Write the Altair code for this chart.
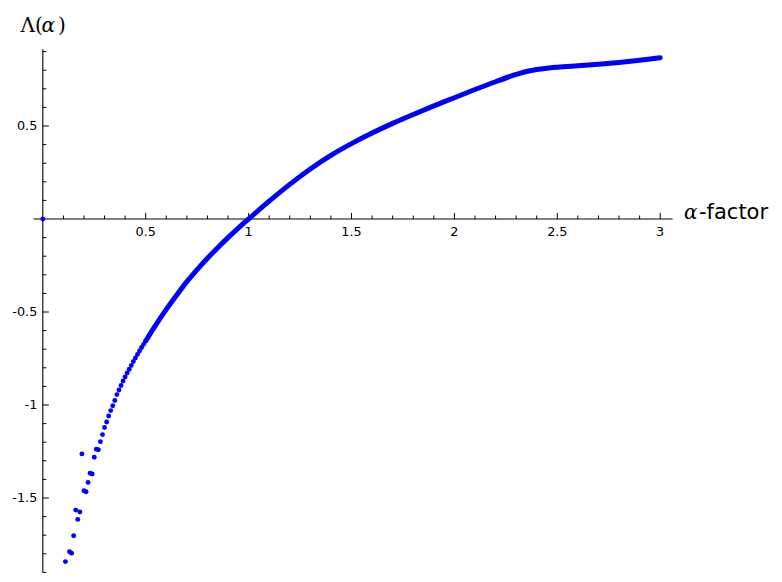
import altair as alt
import pandas as pd

# ---------------- data ----------------
# isolated points at small alpha (alpha, Lambda)
dot_alpha = [0.0, 0.11, 0.13, 0.14, 0.15, 0.16, 0.17, 0.18, 0.19, 0.20,
             0.21, 0.22, 0.23, 0.24, 0.25, 0.26, 0.27, 0.28, 0.29, 0.30,
             0.31, 0.32, 0.33, 0.34, 0.35, 0.36, 0.37, 0.38, 0.39, 0.40,
             0.41, 0.42, 0.43, 0.44, 0.45, 0.46, 0.47, 0.48, 0.49, 0.50]
dot_lambda = [0.0, -1.842, -1.789, -1.797, -1.703, -1.565, -1.615, -1.575, -1.263, -1.461,
              -1.466, -1.416, -1.367, -1.371, -1.281, -1.238, -1.240, -1.197, -1.159, -1.121,
              -1.091, -1.059, -1.030, -1.004, -0.976, -0.944, -0.919, -0.895, -0.871, -0.849,
              -0.828, -0.808, -0.787, -0.766, -0.747, -0.728, -0.710, -0.691, -0.674, -0.656]

# dense part of the curve (points so close they form a thick line)
curve_alpha = [0.50, 0.55, 0.60, 0.65, 0.70, 0.75, 0.80, 0.85, 0.90, 0.95,
               1.00, 1.10, 1.20, 1.30, 1.40, 1.50, 1.60, 1.70, 1.80, 1.90,
               2.00, 2.10, 2.20, 2.30, 2.35, 2.40, 2.45, 2.50, 2.60, 2.70,
               2.80, 2.90, 3.00]
curve_lambda = [-0.656, -0.568, -0.486, -0.410, -0.337, -0.272, -0.211, -0.154, -0.100, -0.049,
                0.0, 0.096, 0.186, 0.269, 0.342, 0.405, 0.462, 0.514, 0.562, 0.608,
                0.652, 0.696, 0.738, 0.777, 0.793, 0.804, 0.811, 0.816, 0.824, 0.832,
                0.842, 0.854, 0.867]

# axis ticks
x_major = [0.5, 1.0, 1.5, 2.0, 2.5, 3.0]
x_major_labels = ["0.5", "1", "1.5", "2", "2.5", "3"]
x_minor = [0.1, 0.2, 0.3, 0.4, 0.6, 0.7, 0.8, 0.9, 1.1, 1.2, 1.3, 1.4,
           1.6, 1.7, 1.8, 1.9, 2.1, 2.2, 2.3, 2.4, 2.6, 2.7, 2.8, 2.9]
y_major = [0.5, -0.5, -1.0, -1.5]
y_major_labels = ["0.5", "-0.5", "-1", "-1.5"]
y_minor = [0.9, 0.8, 0.7, 0.6, 0.4, 0.3, 0.2, 0.1, -0.1, -0.2, -0.3, -0.4,
           -0.6, -0.7, -0.8, -0.9, -1.1, -1.2, -1.3, -1.4, -1.6, -1.7, -1.8, -1.9]
x_axis_extent = [-0.045, 3.06]
y_axis_extent = [-1.9, 0.912]

# ---------------- layout ----------------
W, H = 766, 565
X0PX, XUNIT = 34.8, 205.8     # pixel of alpha=0 inside plot, px per unit
Y0PX, YUNIT = 211.0, 186.0    # pixel of Lambda=0 inside plot, px per unit
xs = alt.Scale(domain=[-X0PX / XUNIT, (W - X0PX) / XUNIT], nice=False, zero=False)
ys = alt.Scale(domain=[(Y0PX - H) / YUNIT, Y0PX / YUNIT], nice=False, zero=False)

BLUE = "#0000ff"

dots = pd.DataFrame({"a": dot_alpha, "l": dot_lambda})
curve = pd.DataFrame({"a": curve_alpha, "l": curve_lambda})

xaxis_df = pd.DataFrame({"a": [x_axis_extent[0]], "a2": [x_axis_extent[1]], "l": [0.0]})
yaxis_df = pd.DataFrame({"l": [y_axis_extent[0]], "l2": [y_axis_extent[1]], "a": [0.0]})

xmaj_df = pd.DataFrame({"a": x_major, "lab": x_major_labels, "l": 0.0})
xmin_df = pd.DataFrame({"a": x_minor, "l": 0.0})
ymaj_df = pd.DataFrame({"l": y_major, "lab": y_major_labels, "a": 0.0})
ymin_df = pd.DataFrame({"l": y_minor, "a": 0.0})

X = lambda f: alt.X(f, type="quantitative", scale=xs, axis=None)
Y = lambda f: alt.Y(f, type="quantitative", scale=ys, axis=None)

x_axis = alt.Chart(xaxis_df).mark_rule(color="black", strokeWidth=1.1).encode(
    x=X("a"), x2="a2", y=Y("l"))
y_axis = alt.Chart(yaxis_df).mark_rule(color="black", strokeWidth=1.1).encode(
    y=Y("l"), y2="l2", x=X("a"))

x_major_ticks = alt.Chart(xmaj_df).mark_rule(color="black", strokeWidth=1, y2Offset=-6).encode(
    x=X("a"), y=Y("l"), y2="l")
x_minor_ticks = alt.Chart(xmin_df).mark_rule(color="black", strokeWidth=1, y2Offset=-3.5).encode(
    x=X("a"), y=Y("l"), y2="l")
y_major_ticks = alt.Chart(ymaj_df).mark_rule(color="black", strokeWidth=1, x2Offset=6).encode(
    y=Y("l"), x=X("a"), x2="a")
y_minor_ticks = alt.Chart(ymin_df).mark_rule(color="black", strokeWidth=1, x2Offset=3.5).encode(
    y=Y("l"), x=X("a"), x2="a")

x_labels = alt.Chart(xmaj_df).mark_text(
    font="DejaVu Sans", fontSize=12.8, color="black", baseline="alphabetic", align="center", dy=16.5
).encode(x=X("a"), y=Y("l"), text="lab:N")
y_labels = alt.Chart(ymaj_df).mark_text(
    font="DejaVu Sans", fontSize=12.8, color="black", baseline="middle", align="right", dx=-5.5
).encode(x=X("a"), y=Y("l"), text="lab:N")

# y title  Λ(α) : upright Λ and parentheses, italic α
lam_df = pd.DataFrame({"t": ["Λ("]})
y_title_a = alt.Chart(lam_df).mark_text(
    font="DejaVu Serif", fontSize=20, color="black", align="left", baseline="alphabetic"
).encode(x=alt.value(12.5), y=alt.value(23.5), text="t:N")
al_df = pd.DataFrame({"t": ["α"]})
y_title_b = alt.Chart(al_df).mark_text(
    font="DejaVu Serif", fontStyle="italic", fontSize=20, color="black", align="left",
    baseline="alphabetic"
).encode(x=alt.value(33.5), y=alt.value(23.5), text="t:N")
rp_df = pd.DataFrame({"t": [")"]})
y_title_c = alt.Chart(rp_df).mark_text(
    font="DejaVu Serif", fontSize=20, color="black", align="left", baseline="alphabetic"
).encode(x=alt.value(50), y=alt.value(23.5), text="t:N")

alpha_df = pd.DataFrame({"t": ["α"]})
x_title_alpha = alt.Chart(alpha_df).mark_text(
    font="DejaVu Serif", fontStyle="italic", fontSize=20, color="black", align="left",
    baseline="alphabetic"
).encode(x=alt.value(676), y=alt.value(211), text="t:N")
factor_df = pd.DataFrame({"t": ["-factor"]})
x_title_rest = alt.Chart(factor_df).mark_text(
    font="DejaVu Sans", fontSize=21, color="black", align="left", baseline="alphabetic"
).encode(x=alt.value(691), y=alt.value(211), text="t:N")

line = alt.Chart(curve).mark_line(
    color=BLUE, strokeWidth=5, interpolate="monotone", strokeCap="round"
).encode(x=X("a"), y=Y("l"), order="a:Q")
points = alt.Chart(dots).mark_circle(color=BLUE, size=24, opacity=1).encode(
    x=X("a"), y=Y("l"))

chart = alt.layer(
    x_axis, y_axis, x_major_ticks, x_minor_ticks, y_major_ticks, y_minor_ticks,
    x_labels, y_labels, y_title_a, y_title_b, y_title_c, x_title_alpha, x_title_rest,
    line, points
).properties(
    width=W, height=H, padding=0,
    autosize=alt.AutoSizeParams(type="none"),
    background="white",
).configure_view(stroke=None)

chart.save("out.html", embed_options={"renderer": "svg", "actions": False})
